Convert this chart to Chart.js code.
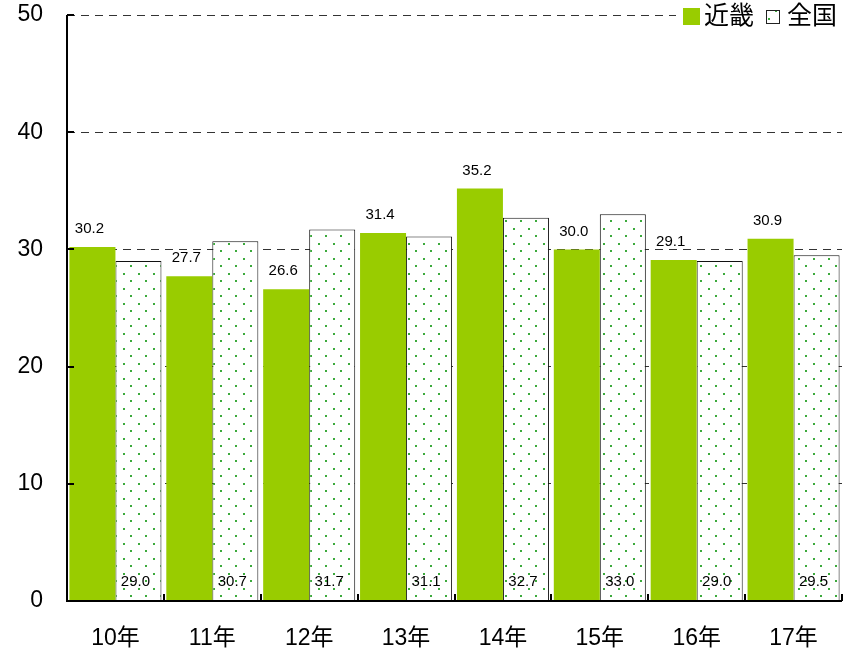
<!DOCTYPE html>
<html><head><meta charset="utf-8">
<script src="https://cdn.jsdelivr.net/npm/chart.js@4/dist/chart.umd.min.js"></script>
<style>html,body{margin:0;padding:0;background:#fff;}#wrap{width:855px;height:649px;}</style>
</head><body><div id="wrap"><canvas id="c" width="855" height="649"></canvas></div>
<script>
const categories = ['10年','11年','12年','13年','14年','15年','16年','17年'];
const kinki = [30.2, 27.7, 26.6, 31.4, 35.2, 30.0, 29.1, 30.9];
const zenkoku = [29.0, 30.7, 31.7, 31.1, 32.7, 33.0, 29.0, 29.5];
const seriesNames = ['近畿','全国'];
const yTicks = [0,10,20,30,40,50];

const FONT = '"Liberation Sans", Arial, "Noto Sans CJK JP", sans-serif';
const GREEN = '#99cc00';

function makePattern(){
  const p = document.createElement('canvas');
  p.width = 15; p.height = 15;
  const g = p.getContext('2d');
  g.fillStyle = '#fff'; g.fillRect(0,0,15,15);
  g.fillStyle = 'rgb(60,170,60)';
  g.fillRect(3,3,2,2);
  g.fillRect(10,10,2,2);
  return g.createPattern(p,'repeat');
}
const ctx0 = document.getElementById('c').getContext('2d');
const dotPattern = makePattern();

const overlay = {
  id: 'overlay',
  afterDatasetsDraw(chart){
    const {ctx, chartArea:a, scales:{x,y}} = chart;
    ctx.save();
    ctx.strokeStyle = '#000'; ctx.lineWidth = 2;
    ctx.beginPath();
    ctx.moveTo(a.left, a.top); ctx.lineTo(a.left, a.bottom); ctx.lineTo(a.right, a.bottom);
    ctx.stroke();
    yTicks.forEach(v=>{
      const py = Math.round(y.getPixelForValue(v));
      ctx.beginPath(); ctx.moveTo(a.left, py); ctx.lineTo(a.left+7, py); ctx.stroke();
    });
    const n = categories.length;
    const w = (a.right - a.left)/n;
    for(let k=0;k<=n;k++){
      const px = Math.round(a.left + w*k);
      ctx.beginPath(); ctx.moveTo(px, a.bottom); ctx.lineTo(px, a.bottom-7); ctx.stroke();
    }
    ctx.fillStyle = '#000';
    ctx.font = '15px ' + FONT;
    ctx.textAlign = 'center'; ctx.textBaseline = 'middle';
    const m0 = chart.getDatasetMeta(0), m1 = chart.getDatasetMeta(1);
    m0.data.forEach((bar,i)=>{
      ctx.fillText(kinki[i].toFixed(1), bar.x - 3, bar.y - 18);
    });
    m1.data.forEach((bar,i)=>{
      ctx.fillText(zenkoku[i].toFixed(1), bar.x - 3, a.bottom - 19);
    });
    ctx.fillStyle = '#fff';
    ctx.fillRect(676, 2, 170, 30);
    ctx.fillStyle = GREEN;
    ctx.fillRect(683, 8, 17, 17);
    ctx.fillStyle = '#000';
    ctx.font = '25px ' + FONT;
    ctx.textAlign = 'left'; ctx.textBaseline = 'middle';
    ctx.fillText(seriesNames[0], 704, 17);
    ctx.fillStyle = dotPattern;
    ctx.fillRect(766, 10, 14, 14);
    ctx.strokeStyle = '#222'; ctx.lineWidth = 1;
    ctx.strokeRect(766.5, 10.5, 13, 13);
    ctx.fillStyle = '#000';
    ctx.fillText(seriesNames[1], 787, 17);
    ctx.restore();
  }
};

new Chart(ctx0, {
  type: 'bar',
  plugins: [overlay],
  data: {
    labels: categories,
    datasets: [
      { label: seriesNames[0], data: kinki, backgroundColor: GREEN, borderWidth: 0 },
      { label: seriesNames[1], data: zenkoku, backgroundColor: dotPattern, borderColor: '#111', borderWidth: {top:1,left:1,right:1,bottom:0}, borderSkipped: 'bottom' }
    ]
  },
  options: {
    responsive: false,
    animation: false,
    devicePixelRatio: 1,
    layout: { padding: { top: 15, right: 13, left: 0, bottom: 0 } },
    plugins: { legend: { display: false }, tooltip: { enabled: false } },
    datasets: { bar: { categoryPercentage: 0.95, barPercentage: 1.0 } },
    scales: {
      x: {
        grid: { display: false, drawTicks: false },
        border: { display: false },
        ticks: { color: '#000', font: { size: 23, family: FONT }, padding: 24, maxRotation: 0 },
        afterFit(s){ s.height = 48; s.paddingLeft = 0; s.paddingRight = 0; }
      },
      y: {
        min: 0, max: 50,
        afterBuildTicks(s){ s.ticks = yTicks.map(v=>({value:v})); },
        grid: { color: '#333', lineWidth: (c)=> c.tick && c.tick.value===0 ? 0 : 1, drawTicks: false },
        border: { display: false, dash: [8,6] },
        ticks: { color: '#000', font: { size: 23, family: FONT }, padding: 24 },
        afterFit(s){ s.width = 67; s.paddingTop = 0; s.paddingBottom = 0; }
      }
    }
  }
});
</script>
</body></html>
